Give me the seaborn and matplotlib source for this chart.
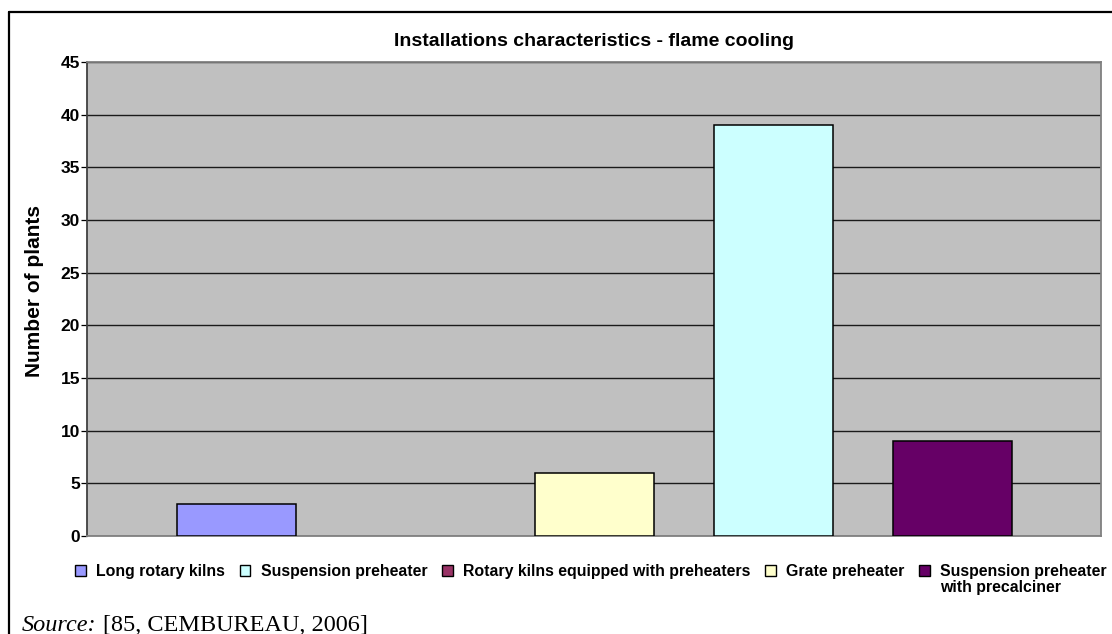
import matplotlib
matplotlib.use("Agg")
import matplotlib.pyplot as plt
import seaborn as sns
import pandas as pd
from matplotlib.patches import Patch
from matplotlib.lines import Line2D

# ---- data ----
slot_categories = ["Long rotary kilns", "Rotary kilns equipped with preheaters",
                   "Grate preheater", "Suspension preheater",
                   "Suspension preheater with precalciner"]
slot_values = [3, 0, 6, 39, 9]
legend_order = ["Long rotary kilns", "Suspension preheater",
                "Rotary kilns equipped with preheaters", "Grate preheater",
                "Suspension preheater with precalciner"]
colors = {"Long rotary kilns": "#9999FF",
          "Suspension preheater": "#CCFFFF",
          "Rotary kilns equipped with preheaters": "#993366",
          "Grate preheater": "#FFFFCC",
          "Suspension preheater with precalciner": "#660066"}
y_ticks = [0, 5, 10, 15, 20, 25, 30, 35, 40, 45]
title = "Installations characteristics - flame cooling"
y_label = "Number of plants"

sns.set_theme(style="white")
plt.rcParams['font.family'] = ['Liberation Sans', 'DejaVu Sans']
plt.rcParams['text.color'] = 'black'
plt.rcParams['axes.labelcolor'] = 'black'
plt.rcParams['xtick.color'] = 'black'
plt.rcParams['ytick.color'] = 'black'

df = pd.DataFrame({"category": slot_categories, "value": slot_values})

W, H = 1112, 634
L, R, T, B = 87, 1101, 62, 536
fig = plt.figure(figsize=(W/100, H/100), dpi=100)
ax = fig.add_axes([L/W, 1-B/H, (R-L)/W, (B-T)/H])
ax.set_facecolor("#C0C0C0")

sns.barplot(data=df, x="category", y="value", hue="category",
            palette=colors, order=slot_categories, hue_order=slot_categories,
            width=0.668, edgecolor="black", linewidth=1.1, legend=False,
            saturation=1, ax=ax, zorder=3)
for p in ax.patches:
    if p.get_height() == 0:
        p.set_linewidth(0)

ax.set_xlim(-0.835, 4.83)
ax.set_ylim(0, 45)
ax.set_yticks(y_ticks)
ax.set_yticklabels([str(t) for t in y_ticks], fontsize=12.5, fontweight="bold")
ax.set_xticks([])
ax.set_xlabel("")
ax.set_ylabel("")
ax.yaxis.grid(True, color="#1a1a1a", linewidth=1.0, zorder=0)
ax.set_axisbelow(True)
ax.tick_params(axis="y", which="major", left=True, length=4, width=0.9,
               color="black", pad=1)
for s in ax.spines.values():
    s.set_color("#808080")
    s.set_linewidth(1.3)
ax.spines["left"].set_color("#404040")

fig.text((L+R)/2/W, 1-45.5/H, title, fontsize=14, fontweight="bold",
         ha="center", va="baseline")
fig.text(35/W, 1-291/H, y_label, fontsize=15, fontweight="bold",
         rotation=90, ha="center", va="center")

handles = [Patch(facecolor=colors[c], edgecolor="black", linewidth=1.0) for c in legend_order]
labels = list(legend_order)
labels[-1] = "Suspension preheater"
leg = fig.legend(handles, labels, loc="center", ncol=5,
                 bbox_to_anchor=(591/W, 1-571.5/H), frameon=False,
                 prop={"weight": "bold", "size": 11.4},
                 handlelength=0.68, handleheight=0.74, handletextpad=0.66,
                 columnspacing=0.92, borderaxespad=0, borderpad=0)

fig.canvas.draw()
renderer = fig.canvas.get_renderer()
last_txt = leg.get_texts()[-1]
bb = last_txt.get_window_extent(renderer)
fig.text(bb.x0/W, (bb.y0 - 1)/H,
         "with precalciner", fontsize=11.4, fontweight="bold", ha="left", va="top")

# source note
src1 = fig.text(22/W, 3/H, "Source:", family=["Liberation Serif", "DejaVu Serif"],
                style="italic", fontsize=17.5, va="baseline", ha="left")
fig.canvas.draw()
b1 = src1.get_window_extent(renderer)
fig.text((b1.x1 + 6)/W, 3/H, "[85, CEMBUREAU, 2006]",
         family=["Liberation Serif", "DejaVu Serif"], fontsize=17.5,
         va="baseline", ha="left")

# outer frame
fig.add_artist(Line2D([9/W, 1.0], [1-12/H, 1-12/H], color="black", linewidth=1.6,
                      transform=fig.transFigure))
fig.add_artist(Line2D([9/W, 9/W], [0, 1-12/H], color="black", linewidth=1.6,
                      transform=fig.transFigure))

fig.savefig("out.png", dpi=100)
